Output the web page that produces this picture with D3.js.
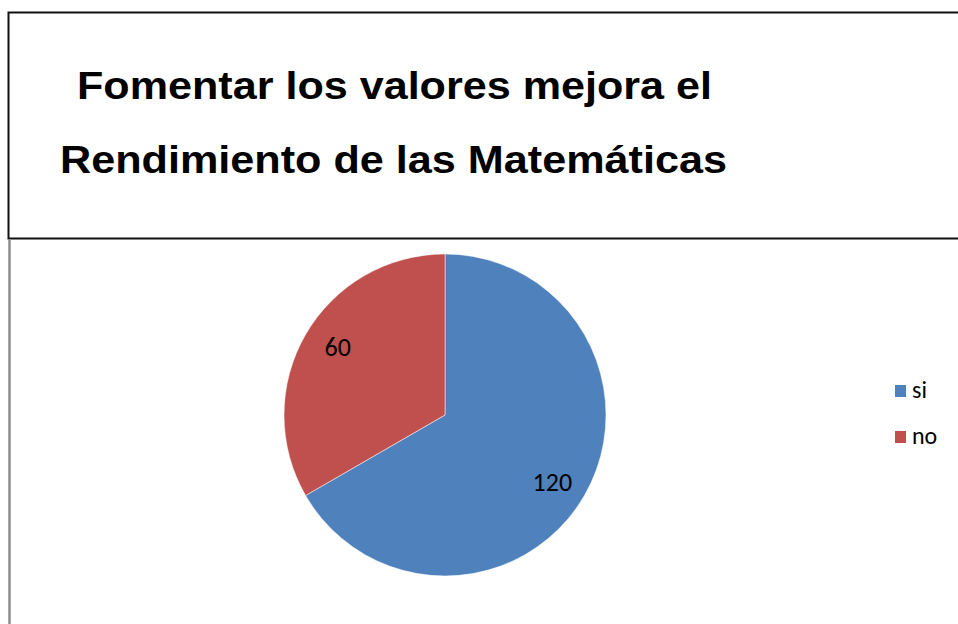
<!DOCTYPE html>
<html>
<head>
<meta charset="utf-8">
<script src="https://cdn.jsdelivr.net/npm/d3@7"></script>
<style>
  body { margin: 0; background: #fff; }
</style>
</head>
<body>
<svg id="chart" width="958" height="624"></svg>
<script>
// chart data
const categories = ['si', 'no'];
const values = [120, 60];
const colors = ['#4f81bd', '#c0504d'];
const titleLines = ['Fomentar los valores mejora el', 'Rendimiento de las Matemáticas'];

const width = 958;
const height = 624;
const cx = 445;
const cy = 415;
const radius = 161;

const svg = d3.select('#chart');

// title frame
svg.append('path')
    .attr('d', 'M958,12.5H8.5V238.5H958')
    .attr('fill', 'none')
    .attr('stroke', '#111')
    .attr('stroke-width', 2);

// grey edge of the chart area
svg.append('line')
    .attr('x1', 9.5).attr('x2', 9.5)
    .attr('y1', 239).attr('y2', height)
    .attr('stroke', '#8c8c8c')
    .attr('stroke-width', 2.5);

// title
const titlePos = [{ x: 77, y: 99, w: 635 }, { x: 60, y: 173, w: 667 }];
svg.append('g')
    .selectAll('text')
    .data(titleLines)
    .join('text')
    .attr('x', (d, i) => titlePos[i].x)
    .attr('y', (d, i) => titlePos[i].y)
    .attr('textLength', (d, i) => titlePos[i].w)
    .attr('lengthAdjust', 'spacingAndGlyphs')
    .attr('font-family', 'Liberation Sans, Arial, sans-serif')
    .attr('font-weight', 'bold')
    .attr('font-size', 39)
    .attr('fill', '#000')
    .text(d => d);

// pie
const color = d3.scaleOrdinal(categories, colors);
const pie = d3.pie().sort(null).value(d => d.value);
const arcs = pie(categories.map((c, i) => ({ name: c, value: values[i] })));
const arc = d3.arc().innerRadius(0).outerRadius(radius);

// data labels sit a bit past the slice middle, like excel does it
function labelPos(d) {
    const a = (d.startAngle + d.endAngle) / 2 + 0.04;
    const r = 127;
    return [r * Math.sin(a), -r * Math.cos(a)];
}

const g = svg.append('g').attr('transform', `translate(${cx},${cy})`);

g.selectAll('path')
    .data(arcs)
    .join('path')
    .attr('d', arc)
    .attr('fill', d => color(d.data.name))
    .attr('stroke', '#fff')
    .attr('stroke-width', 0.5);

g.selectAll('text')
    .data(arcs)
    .join('text')
    .attr('transform', d => `translate(${labelPos(d)})`)
    .attr('text-anchor', 'middle')
    .attr('dy', '0.33em')
    .attr('font-family', 'Carlito, Open Sans, sans-serif')
    .attr('font-size', 26)
    .attr('fill', '#000')
    .text(d => d.data.value);

// legend
const legend = svg.append('g')
    .selectAll('g')
    .data(categories)
    .join('g')
    .attr('transform', (d, i) => `translate(895,${385 + i * 46})`);

legend.append('rect')
    .attr('width', 11)
    .attr('height', 12)
    .attr('fill', d => color(d));

legend.append('text')
    .attr('x', 17)
    .attr('y', 13)
    .attr('font-family', 'Carlito, Open Sans, sans-serif')
    .attr('font-size', 24)
    .attr('fill', '#000')
    .text(d => d);
</script>
</body>
</html>
